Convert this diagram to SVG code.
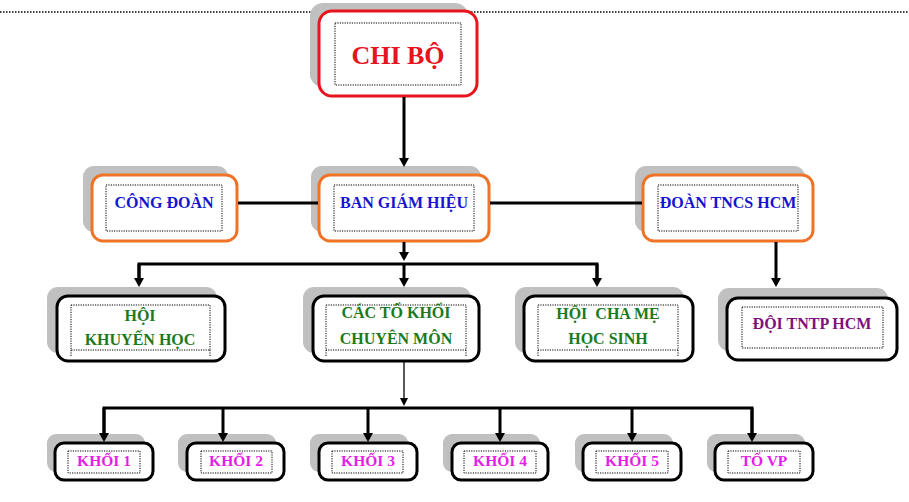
<svg xmlns="http://www.w3.org/2000/svg" width="909" height="502" viewBox="0 0 909 502">
<style>
.sh{fill:#c0c0c0;stroke:none}
.bx{fill:#fff;stroke-width:3}
.red{stroke:#e8141c}
.org{stroke:#f07326}
.blk{stroke:#000}
.in{fill:none;stroke:#000;stroke-width:1;stroke-dasharray:1.2 1.2}
text{font-family:"Liberation Serif","Times New Roman",serif;font-weight:bold;text-anchor:middle}
.t16{font-size:16px}
.t15{font-size:15.5px}
.blue{fill:#1414d2}
.green{fill:#1c7a1c}
.purple{fill:#7d127d}
.mag{fill:#e61ee6}
.c{fill:none;stroke:#000;stroke-width:3}
.thin{fill:none;stroke:#000;stroke-width:1.3}
</style>
<defs>
<marker id="ah" markerUnits="userSpaceOnUse" markerWidth="10" markerHeight="10" refX="0" refY="5" orient="auto">
<path d="M0,0 L9,5 L0,10 z" fill="#000"/>
</marker>
<marker id="ahs" markerUnits="userSpaceOnUse" markerWidth="8" markerHeight="8" refX="0" refY="4" orient="auto">
<path d="M0,0 L8,4 L0,8 z" fill="#000"/>
</marker>
</defs>
<line x1="0" y1="12" x2="908" y2="12" stroke="#000" stroke-width="1.3" stroke-dasharray="1.5 1.5"/>
<g id="chi-bo">
<rect class="sh" x="310" y="3" width="158" height="84" rx="13"/>
<rect class="bx red" x="319" y="11" width="158" height="85" rx="13"/>
<rect class="in" x="335" y="23" width="126" height="62"/>
<text x="398" y="64" style="font-size:26px;fill:#e8141c">CHI BỘ</text>
</g>
<g id="cong-doan">
<rect class="sh" x="83" y="166" width="145" height="66" rx="11"/>
<rect class="bx org" x="92" y="175" width="145" height="66" rx="11"/>
<rect class="in" x="106" y="185" width="116" height="46"/>
<text class="t16 blue" x="164" y="208">CÔNG ĐOÀN</text>
</g>
<g id="ban-giam-hieu">
<rect class="sh" x="311" y="166" width="170" height="66" rx="11"/>
<rect class="bx org" x="319" y="175" width="170" height="66" rx="11"/>
<rect class="in" x="334" y="185" width="140" height="46"/>
<text class="t16 blue" x="404" y="208">BAN GIÁM HIỆU</text>
</g>
<g id="doan-tncs">
<rect class="sh" x="635" y="166" width="170" height="66" rx="11"/>
<rect class="bx org" x="643" y="175" width="170" height="66" rx="11"/>
<rect class="in" x="658" y="185" width="140" height="46"/>
<text class="t16 blue" x="728" y="208">ĐOÀN TNCS HCM</text>
</g>
<g id="hoi-khuyen-hoc">
<rect class="sh" x="47" y="287" width="170" height="66" rx="11"/>
<rect class="bx blk" x="57" y="296" width="168" height="65" rx="11"/>
<rect class="in" x="71" y="305" width="139" height="45"/>
<path class="in" d="M71,350 V357 M210,350 V357"/>
<text class="t16 green" x="140" y="321">HỘI</text>
<text class="t16 green" x="140" y="345">KHUYẾN HỌC</text>
</g>
<g id="cac-to-khoi">
<rect class="sh" x="303" y="287" width="168" height="66" rx="11"/>
<rect class="bx blk" x="313" y="296" width="166" height="65" rx="11"/>
<rect class="in" x="326" y="305" width="140" height="45"/>
<path class="in" d="M326,350 V357 M466,350 V357"/>
<text class="t16 green" x="396" y="318">CÁC TỔ KHỐI</text>
<text class="t16 green" x="396" y="344">CHUYÊN MÔN</text>
</g>
<g id="hoi-cha-me">
<rect class="sh" x="515" y="287" width="169" height="66" rx="11"/>
<rect class="bx blk" x="524" y="296" width="169" height="65" rx="11"/>
<rect class="in" x="538" y="305" width="140" height="45"/>
<path class="in" d="M538,350 V357 M678,350 V357"/>
<text class="t16 green" x="608" y="319" xml:space="preserve">HỘI  CHA MẸ</text>
<text class="t16 green" x="608" y="344">HỌC SINH</text>
</g>
<g id="doi-tntp">
<rect class="sh" x="718" y="288" width="170" height="63" rx="11"/>
<rect class="bx blk" x="727" y="298" width="170" height="62" rx="11"/>
<rect class="in" x="742" y="307" width="141" height="41"/>
<text class="t16 purple" x="812" y="329">ĐỘI TNTP HCM</text>
</g>
<g id="khoi-1">
<rect class="sh" x="47" y="434" width="98" height="38" rx="9"/>
<rect class="bx blk" x="55" y="443" width="98" height="37" rx="9"/>
<rect class="in" x="68" y="451" width="72" height="22"/>
<text class="t15 mag" x="104" y="466">KHỐI 1</text>
</g>
<g id="khoi-2">
<rect class="sh" x="178" y="434" width="98" height="38" rx="9"/>
<rect class="bx blk" x="187" y="443" width="97" height="37" rx="9"/>
<rect class="in" x="201" y="451" width="71" height="22"/>
<text class="t15 mag" x="236" y="466">KHỐI 2</text>
</g>
<g id="khoi-3">
<rect class="sh" x="310" y="434" width="98" height="38" rx="9"/>
<rect class="bx blk" x="319" y="443" width="98" height="37" rx="9"/>
<rect class="in" x="332" y="451" width="71" height="22"/>
<text class="t15 mag" x="368" y="466">KHỐI 3</text>
</g>
<g id="khoi-4">
<rect class="sh" x="443" y="434" width="97" height="38" rx="9"/>
<rect class="bx blk" x="452" y="443" width="96" height="37" rx="9"/>
<rect class="in" x="464" y="451" width="72" height="22"/>
<text class="t15 mag" x="500" y="466">KHỐI 4</text>
</g>
<g id="khoi-5">
<rect class="sh" x="575" y="434" width="98" height="38" rx="9"/>
<rect class="bx blk" x="583" y="443" width="98" height="37" rx="9"/>
<rect class="in" x="596" y="451" width="72" height="22"/>
<text class="t15 mag" x="632" y="466">KHỐI 5</text>
</g>
<g id="to-vp">
<rect class="sh" x="707" y="434" width="98" height="38" rx="9"/>
<rect class="bx blk" x="715" y="443" width="98" height="37" rx="9"/>
<rect class="in" x="728" y="451" width="72" height="22"/>
<text class="t15 mag" x="764" y="466">TỔ VP</text>
</g>
<g id="connectors">
<path class="c" d="M404,97 V158" marker-end="url(#ah)"/>
<path class="c" d="M238,203 H318"/>
<path class="c" d="M490,203 H642"/>
<path class="c" d="M404,242 V252" marker-end="url(#ah)"/>
<path class="c" d="M139,278 V264 H597 V278"/>
<path class="c" d="M139,264 V278" marker-end="url(#ah)"/>
<path class="c" d="M404,264 V278" marker-end="url(#ah)"/>
<path class="c" d="M597,264 V278" marker-end="url(#ah)"/>
<path class="c" d="M776,242 V278" marker-end="url(#ah)"/>
<path class="thin" d="M404,362 V398" marker-end="url(#ahs)"/>
<path class="c" d="M104,433 V408 H752 V433"/>
<path class="c" d="M104,408 V433" marker-end="url(#ah)"/>
<path class="c" d="M223,408 V433" marker-end="url(#ah)"/>
<path class="c" d="M368,408 V433" marker-end="url(#ah)"/>
<path class="c" d="M500,408 V433" marker-end="url(#ah)"/>
<path class="c" d="M632,408 V433" marker-end="url(#ah)"/>
<path class="c" d="M752,408 V433" marker-end="url(#ah)"/>
</g>
</svg>
